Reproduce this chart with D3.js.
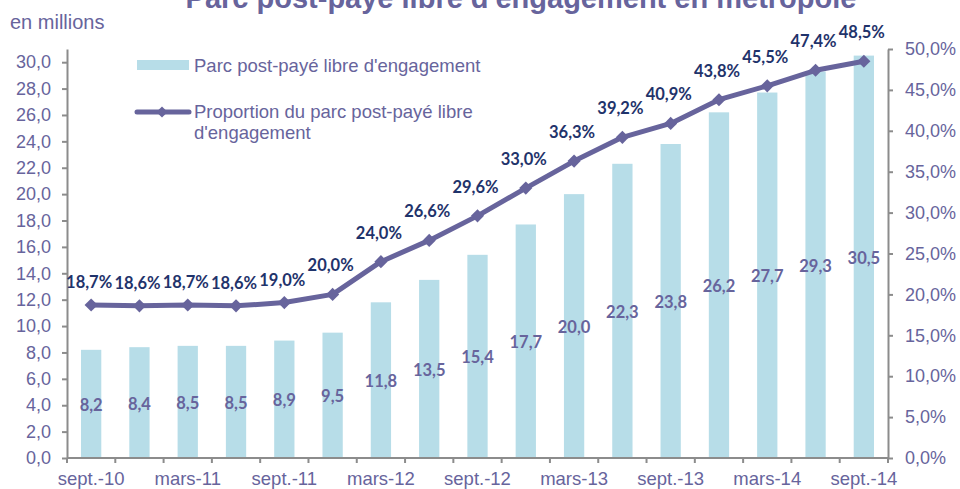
<!DOCTYPE html>
<html>
<head>
<meta charset="utf-8">
<script src="https://cdn.jsdelivr.net/npm/d3@7"></script>
<style>
  body { margin: 0; background: #fff; }
  svg { display: block; font-family: "Liberation Sans", Arial, sans-serif; }
</style>
</head>
<body>
<div id="container"></div>
<script>
/* DATA */
const periods = ["sept.-10", "déc.-10", "mars-11", "juin-11", "sept.-11", "déc.-11", "mars-12", "juin-12",
  "sept.-12", "déc.-12", "mars-13", "juin-13", "sept.-13", "déc.-13", "mars-14", "juin-14", "sept.-14"];
const parc = [8.2, 8.4, 8.5, 8.5, 8.9, 9.5, 11.8, 13.5, 15.4, 17.7, 20.0, 22.3, 23.8, 26.2, 27.7, 29.3, 30.5];
const proportion = [18.7, 18.6, 18.7, 18.6, 19.0, 20.0, 24.0, 26.6, 29.6, 33.0, 36.3, 39.2, 40.9, 43.8, 45.5, 47.4, 48.5];
const leftTicks = d3.range(0, 31, 2);
const rightTicks = d3.range(0, 51, 5);

/* CONSTANTS AND GLOBALS */
const width = 960;
const height = 489;
const x0 = 67, x1 = 888, yBottom = 458, yTop = 49;
const purple = "#67649c";
const barColor = "#b7dde8";
const navy = "#1f336b";
const axisGrey = "#8c8c8c";
const fmt = d3.format(".1f");
const comma = v => fmt(v).replace(".", ",");

const svg = d3.select("#container")
  .append("svg")
  .attr("width", width)
  .attr("height", height);

/* SCALES */
const xScale = d3.scaleBand()
  .domain(periods)
  .range([x0, x1])
  .paddingInner(0.58)
  .paddingOuter(0.29);

const xBand = d3.scaleBand().domain(periods).range([x0, x1]);

const yScale = d3.scaleLinear()
  .domain([0, 31])
  .range([yBottom, yTop]);

const yScaleRight = d3.scaleLinear()
  .domain([0, 50])
  .range([yBottom, yTop]);

const center = d => xBand(d) + xBand.bandwidth() / 2;

/* TITLE */
svg.append("text")
  .attr("x", 521)
  .attr("y", 8)
  .attr("text-anchor", "middle")
  .attr("fill", purple)
  .style("font-size", "29px")
  .style("font-weight", "bold")
  .text("Parc post-payé libre d'engagement en métropole");

svg.append("text")
  .attr("x", 10)
  .attr("y", 29)
  .attr("fill", purple)
  .style("font-size", "20px")
  .text("en millions");

/* BARS */
svg.append("g")
  .selectAll("rect")
  .data(parc)
  .join("rect")
    .attr("x", (d, i) => xScale(periods[i]))
    .attr("y", d => yScale(d))
    .attr("width", xScale.bandwidth())
    .attr("height", d => yScale(0) - yScale(d))
    .attr("fill", barColor);

/* AXES */
const yAxis = d3.axisLeft(yScale)
  .tickValues(leftTicks)
  .tickFormat(comma)
  .tickSize(5)
  .tickSizeOuter(0);

const gy = svg.append("g")
  .attr("transform", `translate(${x0},0)`)
  .call(yAxis);

const yAxisRight = d3.axisRight(yScaleRight)
  .tickValues(rightTicks)
  .tickFormat(d => comma(d) + "%")
  .tickSize(5)
  .tickSizeOuter(0);

const gyr = svg.append("g")
  .attr("transform", `translate(${x1},0)`)
  .call(yAxisRight);

// ticks at band boundaries, labels every other period
const boundaries = periods.map(p => xBand(p)).concat([x1]);
const gx = svg.append("g").attr("transform", `translate(0,${yBottom})`);
gx.append("line")
  .attr("x1", x0).attr("x2", x1)
  .attr("stroke", axisGrey).attr("stroke-width", 2);
gx.selectAll(".tk")
  .data(boundaries)
  .join("line")
    .attr("class", "tk")
    .attr("x1", d => d).attr("x2", d => d)
    .attr("y1", 0).attr("y2", 5)
    .attr("stroke", axisGrey).attr("stroke-width", 2);
gx.selectAll("text")
  .data(periods.filter((p, i) => i % 2 === 0))
  .join("text")
    .attr("x", d => center(d))
    .attr("y", 27)
    .attr("text-anchor", "middle")
    .attr("fill", purple)
    .style("font-size", "18.5px")
    .text(d => d);

[gy, gyr].forEach(g => {
  g.select(".domain").attr("stroke", axisGrey).attr("stroke-width", 2);
  g.selectAll(".tick line").attr("stroke", axisGrey).attr("stroke-width", 2);
  g.selectAll(".tick text")
    .attr("fill", purple)
    .style("font-size", "18px")
    .style("font-family", "'Liberation Sans', Arial, sans-serif");
});
gy.selectAll(".tick text").attr("x", -16);
gyr.selectAll(".tick text").attr("x", 17);

/* LINE */
const line = d3.line()
  .x((d, i) => center(periods[i]))
  .y(d => yScaleRight(d));

svg.append("path")
  .datum(proportion)
  .attr("d", line)
  .attr("fill", "none")
  .attr("stroke", purple)
  .attr("stroke-width", 5)
  .attr("stroke-linejoin", "round");

const diamond = d3.symbol().type(d3.symbolDiamond2).size(110);
svg.append("g")
  .selectAll("path")
  .data(proportion)
  .join("path")
    .attr("transform", (d, i) => `translate(${center(periods[i])},${yScaleRight(d)})`)
    .attr("d", diamond)
    .attr("fill", purple);

/* DATA LABELS */
// flat start of the curve has labels a bit closer to the markers
svg.append("g")
  .selectAll("text")
  .data(proportion)
  .join("text")
    .attr("x", (d, i) => center(periods[i]) - 2)
    .attr("y", (d, i) => yScaleRight(d) - (i < 5 ? 17 : 23))
    .attr("text-anchor", "middle")
    .attr("fill", navy)
    .style("font-family", "Lato, 'Open Sans', sans-serif")
    .style("font-size", "16.5px")
    .style("font-weight", "bold")
    .text(d => comma(d) + "%");

svg.append("g")
  .selectAll("text")
  .data(parc)
  .join("text")
    .attr("x", (d, i) => center(periods[i]))
    .attr("y", d => (yScale(d) + yScale(0)) / 2 + 7)
    .attr("text-anchor", "middle")
    .attr("fill", purple)
    .style("font-family", "Lato, 'Open Sans', sans-serif")
    .style("font-size", "16.5px")
    .style("font-weight", "bold")
    .text(d => comma(d));

/* LEGEND */
const legend = svg.append("g");
legend.append("rect")
  .attr("x", 137).attr("y", 60)
  .attr("width", 52).attr("height", 10)
  .attr("fill", barColor);
legend.append("text")
  .attr("x", 194).attr("y", 72)
  .attr("fill", purple)
  .style("font-size", "18.5px")
  .text("Parc post-payé libre d'engagement");

legend.append("line")
  .attr("x1", 137).attr("x2", 189)
  .attr("y1", 112).attr("y2", 112)
  .attr("stroke", purple).attr("stroke-width", 5)
  .attr("stroke-linecap", "round");
legend.append("path")
  .attr("transform", "translate(162,112)")
  .attr("d", d3.symbol().type(d3.symbolDiamond2).size(80))
  .attr("fill", purple);
legend.append("text")
  .attr("x", 194).attr("y", 118)
  .attr("fill", purple)
  .style("font-size", "18.5px")
  .text("Proportion du parc post-payé libre");
legend.append("text")
  .attr("x", 194).attr("y", 139)
  .attr("fill", purple)
  .style("font-size", "18.5px")
  .text("d'engagement");
</script>
</body>
</html>
